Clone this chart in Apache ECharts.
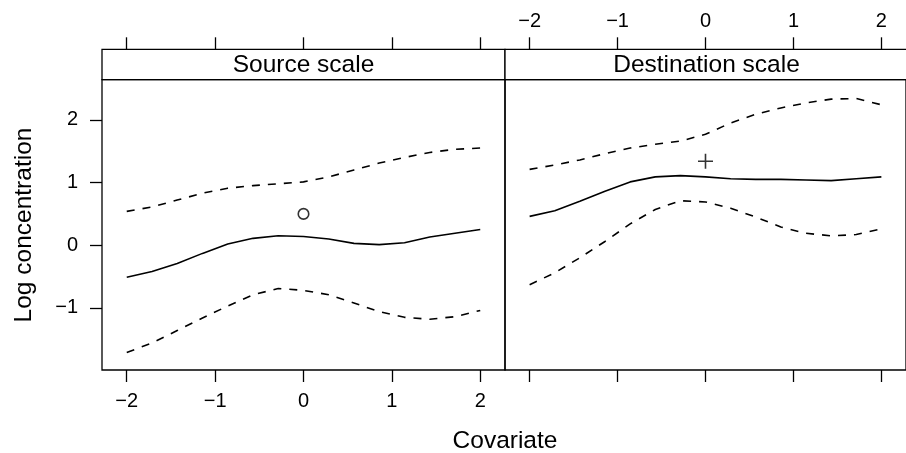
<!DOCTYPE html>
<html><head><meta charset="utf-8">
<script src="https://cdn.jsdelivr.net/npm/echarts@6/dist/echarts.min.js"></script>
<style>html,body{margin:0;padding:0;background:#fff}#c{width:906px;height:453px}</style>
</head><body><div id="c"></div>
<script>
// ---- data ----
const covariate = [-2, -1.714, -1.429, -1.143, -0.857, -0.571, -0.286, 0, 0.286, 0.571, 0.857, 1.143, 1.429, 1.714, 2];
const sourceFit   = [-0.51, -0.42, -0.29, -0.13, 0.02, 0.11, 0.15, 0.14, 0.10, 0.03, 0.01, 0.04, 0.13, 0.19, 0.25];
const sourceUpper = [0.54, 0.61, 0.72, 0.83, 0.91, 0.95, 0.98, 1.01, 1.09, 1.20, 1.31, 1.40, 1.48, 1.53, 1.55];
const sourceLower = [-1.71, -1.56, -1.36, -1.16, -0.97, -0.79, -0.69, -0.72, -0.79, -0.92, -1.06, -1.15, -1.18, -1.14, -1.04];
const destFit     = [0.46, 0.55, 0.70, 0.86, 1.01, 1.09, 1.11, 1.09, 1.06, 1.05, 1.05, 1.04, 1.03, 1.06, 1.09];
const destUpper   = [1.21, 1.28, 1.36, 1.46, 1.55, 1.61, 1.66, 1.77, 1.95, 2.09, 2.19, 2.27, 2.33, 2.34, 2.24];
const destLower   = [-0.63, -0.44, -0.20, 0.06, 0.34, 0.57, 0.71, 0.69, 0.59, 0.45, 0.29, 0.19, 0.15, 0.17, 0.26];
const sourcePoint = [0, 0.50];
const destPoint   = [0, 1.34];
const xTicks = [-2, -1, 0, 1, 2];
const yTicks = [-1, 0, 1, 2];
const panelTitles = ['Source scale', 'Destination scale'];
const xTitle = 'Covariate';
const yTitle = 'Log concentration';

// ---- chart ----
const FONT = '"Liberation Sans", Arial, Helvetica, sans-serif';
const fmt = v => String(v).replace('-', '\u2212');
const pair = arr => covariate.map((x, i) => [x, arr[i]]);
const XMIN = -2.28, XMAX = 2.28, YMIN = -1.99, YMAX = 2.64;
const TOP = 79.7, H = 290.3, STRIP = 30.4;
const panels = [{left: 102, width: 403}, {left: 505, width: 403}];

function xAxis(grid, pos, labels) {
  return {
    type: 'value', gridIndex: grid, position: pos, min: XMIN, max: XMAX,
    offset: pos === 'top' ? STRIP : 0,
    axisLine: {show: false, onZero: false},
    splitLine: {show: false},
    axisTick: {show: true, inside: false, length: 12, customValues: xTicks,
      lineStyle: {color: '#000', width: 1.3}},
    axisLabel: {show: labels, customValues: xTicks, formatter: fmt, color: '#000',
      fontSize: 20, fontFamily: FONT, margin: pos === 'top' ? 18 : 21}
  };
}

const chart = echarts.init(document.getElementById('c'), null, {renderer: 'canvas'});
const dashed = {color: '#000', width: 1.6, type: [8, 8]};
const solid = {color: '#000', width: 1.6, type: 'solid'};
function lineSeries(xi, yi, data, style) {
  return {type: 'line', xAxisIndex: xi, yAxisIndex: yi, data: data, showSymbol: false,
    symbol: 'none', lineStyle: style, silent: true, z: 3};
}
const plusPath = 'path://M0,6.8 H15 V8.4 H0 Z M6.7,0 H8.3 V15 H6.7 Z';

chart.setOption({
  animation: false,
  backgroundColor: '#fff',
  grid: panels.map(p => ({left: p.left, width: p.width, top: TOP, height: H,
    show: true, borderColor: '#000', borderWidth: 1.3, backgroundColor: 'transparent',
    containLabel: false})),
  xAxis: [xAxis(0, 'bottom', true), xAxis(0, 'top', false), xAxis(1, 'bottom', false), xAxis(1, 'top', true)],
  yAxis: [
    {type: 'value', gridIndex: 0, min: YMIN, max: YMAX, position: 'left',
      axisLine: {show: false, onZero: false}, splitLine: {show: false},
      axisTick: {show: true, inside: false, length: 12, customValues: yTicks,
        lineStyle: {color: '#000', width: 1.3}},
      axisLabel: {show: true, customValues: yTicks, formatter: fmt, color: '#000',
        fontSize: 20, fontFamily: FONT, margin: 24}},
    {type: 'value', gridIndex: 1, min: YMIN, max: YMAX, position: 'left',
      axisLine: {show: false, onZero: false}, splitLine: {show: false},
      axisTick: {show: false}, axisLabel: {show: false}}
  ],
  series: [
    lineSeries(0, 0, pair(sourceUpper), dashed),
    lineSeries(0, 0, pair(sourceFit), solid),
    lineSeries(0, 0, pair(sourceLower), dashed),
    {type: 'scatter', xAxisIndex: 0, yAxisIndex: 0, data: [sourcePoint], symbol: 'circle',
      symbolSize: 10.5, itemStyle: {color: '#fff', borderColor: '#000', borderWidth: 1.6}, z: 4},
    lineSeries(2, 1, pair(destUpper), dashed),
    lineSeries(2, 1, pair(destFit), solid),
    lineSeries(2, 1, pair(destLower), dashed),
    {type: 'scatter', xAxisIndex: 2, yAxisIndex: 1, data: [destPoint], symbol: plusPath,
      symbolSize: 15, itemStyle: {color: '#000'}, z: 4}
  ],
  graphic: [
    ...panels.map((p, i) => ({type: 'group', children: [
      {type: 'rect', shape: {x: p.left, y: TOP - STRIP, width: p.width, height: STRIP},
        style: {fill: '#fff', stroke: '#000', lineWidth: 1.3}},
      {type: 'text', x: p.left + p.width / 2, y: TOP - STRIP / 2 + 0.5,
        style: {text: panelTitles[i], font: '24.5px ' + FONT, fill: '#000',
          textAlign: 'center', textVerticalAlign: 'middle'}}
    ]})),
    {type: 'text', x: 505, y: 441, style: {text: xTitle, font: '24.5px ' + FONT, fill: '#000',
      textAlign: 'center', textVerticalAlign: 'middle'}},
    {type: 'text', x: 24, y: 225, rotation: Math.PI / 2, style: {text: yTitle,
      font: '24.5px ' + FONT, fill: '#000', textAlign: 'center', textVerticalAlign: 'middle'}}
  ]
});
</script>
</body></html>
